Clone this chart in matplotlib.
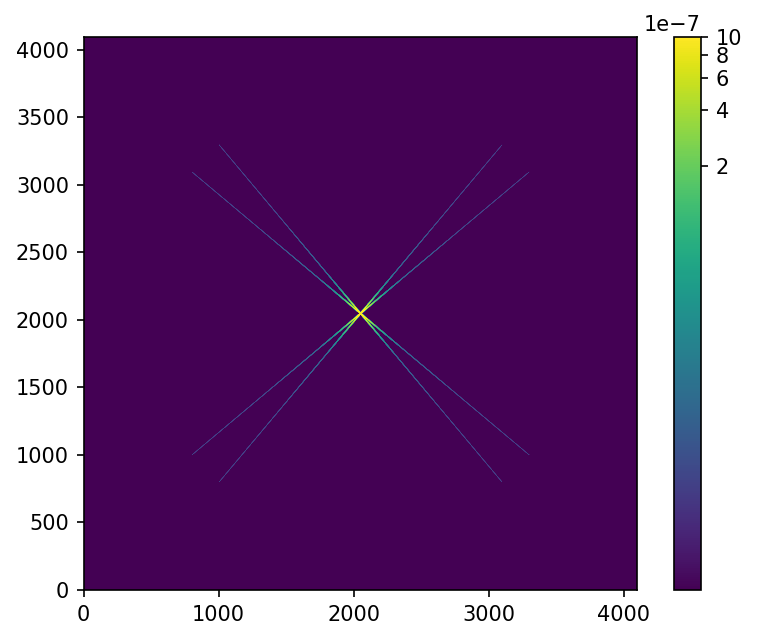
import numpy as np
import matplotlib
matplotlib.use("Agg")
import matplotlib.pyplot as plt
from matplotlib.colors import LogNorm
from matplotlib.ticker import ScalarFormatter

# image grid and the X pattern
n = 4096
centre = (2048, 2048)
angles_deg = [40, 50, 130, 140]       # four spikes through the centre
box_half = 1250                        # spikes stop at this half-size square
# brightness along a spike (distance from centre in pixels -> value)
spike_r = [0, 30, 75, 150, 250, 400, 900, 1640]
spike_v = [8e-6, 5e-6, 2.5e-6, 6e-7, 1.6e-7, 4.5e-8, 2e-8, 1.4e-8]
# cross-section of a spike (pixel offset -> relative weight)
cross_off = [-1, 0, 1]
cross_w = [0.4, 1.0, 0.4]
background = 1e-10

cbar_ticks = [2e-7, 4e-7, 6e-7, 8e-7, 1e-6]
xticks = [0, 1000, 2000, 3000, 4000]
yticks = [0, 500, 1000, 1500, 2000, 2500, 3000, 3500, 4000]

img = np.full((n, n), background, dtype=np.float32)
for a in angles_deg:
    th = np.deg2rad(a)
    c, s = np.cos(th), np.sin(th)
    L = box_half / max(abs(c), abs(s))
    t = np.arange(-L, L, 0.25)
    for off, wt in zip(cross_off, cross_w):
        x = centre[0] + t * c - off * s
        y = centre[1] + t * s + off * c
        v = np.interp(np.abs(t), spike_r, spike_v) * wt
        ix = np.clip(np.round(x).astype(int), 0, n - 1)
        iy = np.clip(np.round(y).astype(int), 0, n - 1)
        np.maximum.at(img, (iy, ix), v.astype(np.float32))


class Fmt(ScalarFormatter):
    def _set_order_of_magnitude(self):
        self.orderOfMagnitude = -7


fig = plt.figure(figsize=(757 / 150, 641 / 150), dpi=150)
ax = fig.add_axes([82 / 757, 51 / 641, 556 / 757, 553 / 641])
cax = fig.add_axes([674 / 757, 51 / 641, 27 / 757, 553 / 641])

im = ax.imshow(img, origin="lower", cmap="viridis",
               norm=LogNorm(vmin=1e-9, vmax=1e-6),
               extent=(0, n, 0, n), interpolation_stage="data")
ax.set_xticks(xticks)
ax.set_yticks(yticks)

cb = fig.colorbar(im, cax=cax)
cb.ax.minorticks_off()
cb.set_ticks(cbar_ticks)
cb.ax.yaxis.set_major_formatter(Fmt())

fig.savefig("out.png", dpi=150)
